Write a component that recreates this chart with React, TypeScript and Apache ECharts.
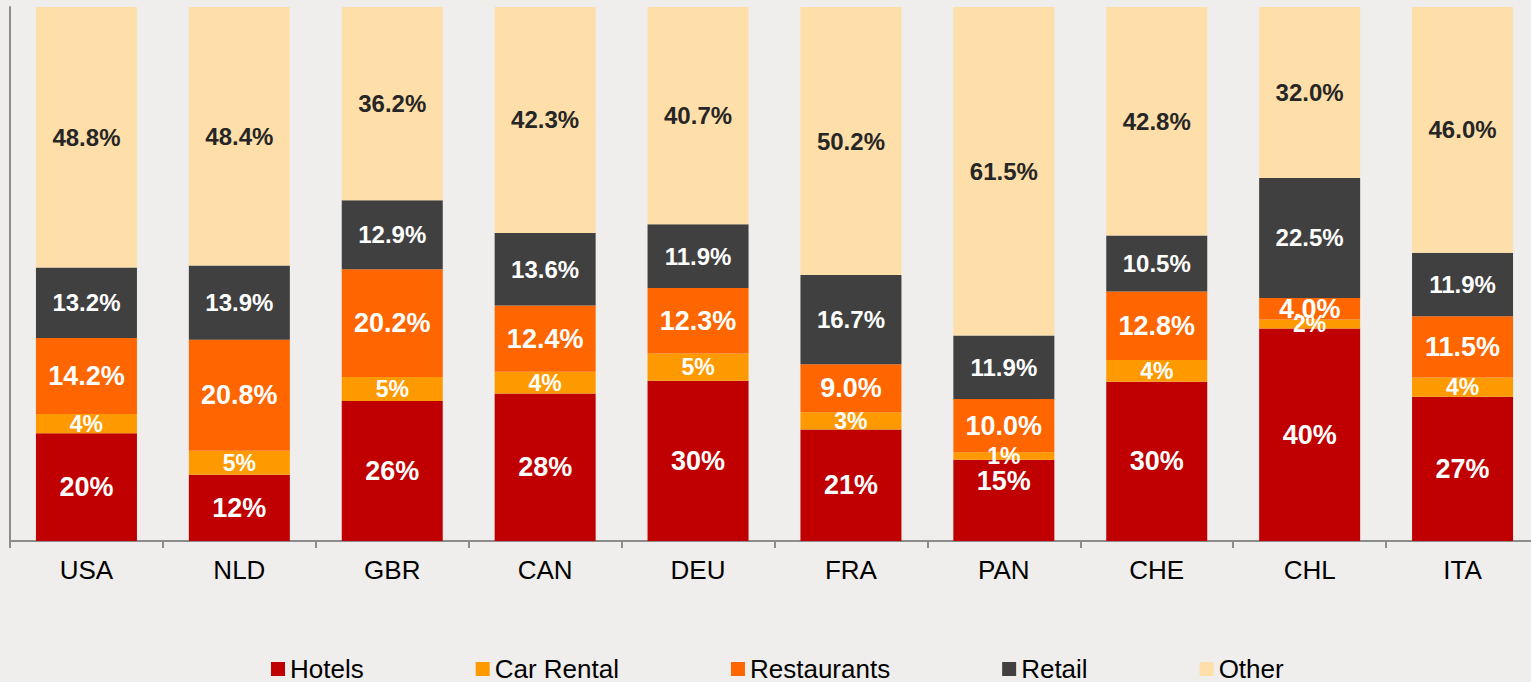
import React, { useEffect, useRef } from "react";
import * as echarts from "echarts";

const categories = ["USA", "NLD", "GBR", "CAN", "DEU", "FRA", "PAN", "CHE", "CHL", "ITA"];
const hotels = [20.2, 12.4, 26.2, 27.6, 30.0, 20.9, 15.2, 29.8, 39.8, 27.0];
const carRental = [3.6, 4.5, 4.5, 4.1, 5.1, 3.2, 1.4, 4.1, 1.7, 3.6];
const restaurants = [14.2, 20.8, 20.2, 12.4, 12.3, 9.0, 10.0, 12.8, 4.0, 11.5];
const retail = [13.2, 13.9, 12.9, 13.6, 11.9, 16.7, 11.9, 10.5, 22.5, 11.9];
const other = [48.8, 48.4, 36.2, 42.3, 40.7, 50.2, 61.5, 42.8, 32.0, 46.0];

const FONT = "'Liberation Sans', Arial, sans-serif";

export default function App() {
  const ref = useRef<HTMLDivElement>(null);
  useEffect(() => {
    document.documentElement.style.overflow = "hidden";
    document.body.style.margin = "0";
    document.body.style.overflow = "hidden";
    document.body.style.background = "#EFEEEC";
    const chart = echarts.init(ref.current!, null, { renderer: "svg" });
    const mk = (
      name: string,
      data: number[],
      color: string,
      size: number,
      textColor: string,
      decimals: number,
      offsets: Record<number, number[]> = {}
    ) => ({
      name,
      type: "bar",
      stack: "total",
      data: data.map((v, i) =>
        offsets[i] ? { value: v, label: { offset: offsets[i] } } : v
      ),
      barWidth: 101,
      clip: false,
      itemStyle: { color },
      label: {
        show: true,
        position: "inside",
        color: textColor,
        fontSize: size,
        fontWeight: "bold",
        fontFamily: FONT,
        formatter: (p: any) => Number(p.value).toFixed(decimals) + "%",
      },
    });
    chart.setOption({
      animation: false,
      backgroundColor: "#EFEEEC",
      grid: { left: 10, top: 7, width: 1529, bottom: 141, containLabel: false },
      legend: {
        left: 266,
        top: 651,
        itemWidth: 14,
        itemHeight: 14,
        itemGap: 112,
        icon: "rect",
        textStyle: { fontSize: 26, color: "#000", fontFamily: FONT },
        data: ["Hotels", "Car Rental", "Restaurants", "Retail", "Other"],
      },
      xAxis: {
        type: "category",
        data: categories,
        axisLine: { lineStyle: { color: "#8c8c8c", width: 2 } },
        axisTick: { show: true, length: 7, lineStyle: { color: "#8c8c8c", width: 2 } },
        axisLabel: { color: "#000", fontSize: 26, fontFamily: FONT, margin: 16 },
      },
      yAxis: {
        type: "value",
        min: 0,
        max: 100,
        axisLine: { show: true, lineStyle: { color: "#8c8c8c", width: 2 } },
        axisTick: { show: false },
        axisLabel: { show: false },
        splitLine: { show: false },
      },
      series: [
        mk("Hotels", hotels, "#C00000", 27, "#fff", 0, { 6: [0, -19] }),
        mk("Car Rental", carRental, "#FF9900", 23, "#fff", 0),
        mk("Restaurants", restaurants, "#FF6600", 27, "#fff", 1),
        mk("Retail", retail, "#404040", 24, "#fff", 1),
        mk("Other", other, "#FFDFA9", 24, "#262626", 1),
      ],
    });
    return () => chart.dispose();
  }, []);
  return <div ref={ref} style={{ width: 1540, height: 682 }} />;
}
